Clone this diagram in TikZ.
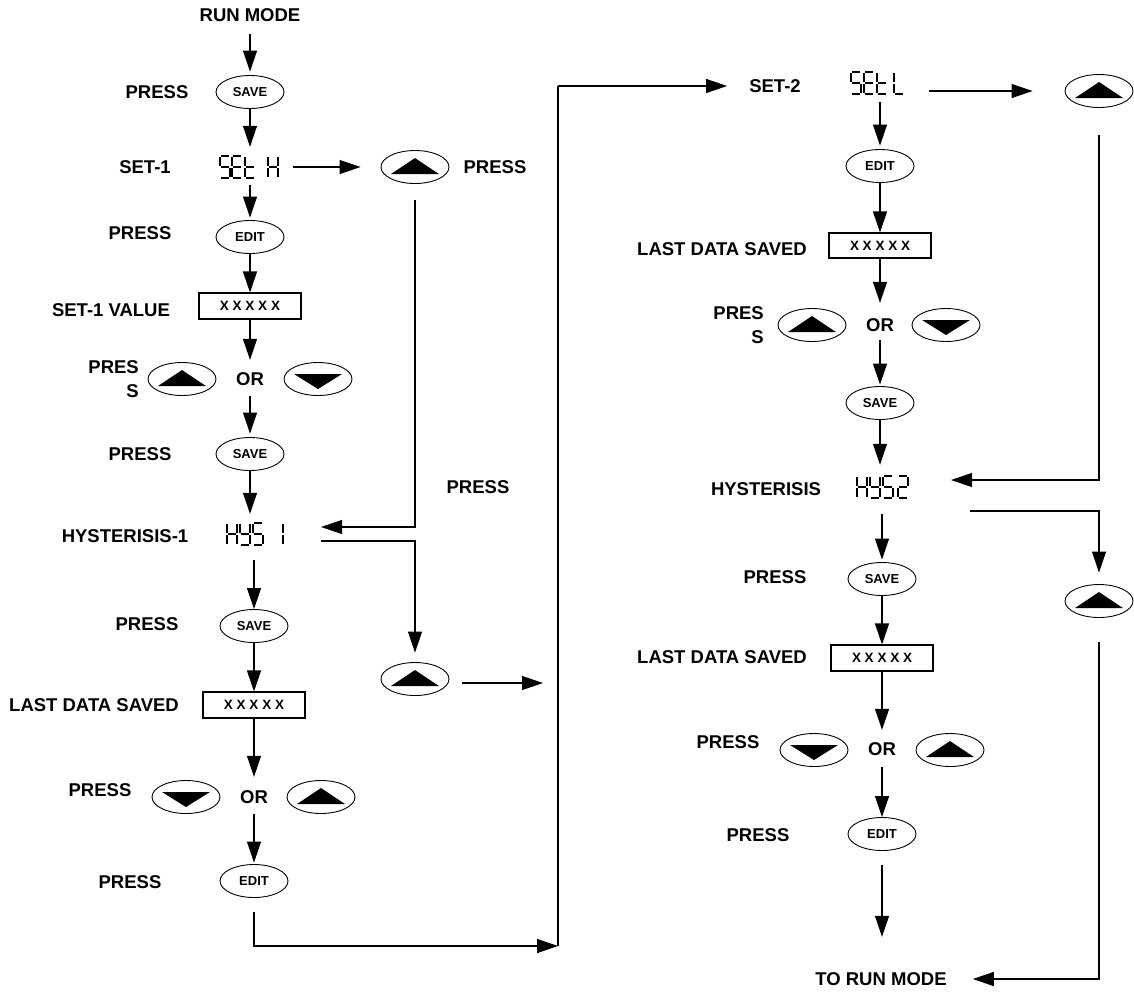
\documentclass[tikz,border=0pt]{standalone}
\usepackage{fontspec}
\setmainfont{Liberation Sans}
\usetikzlibrary{arrows.meta,shapes.geometric,calc}
\tikzset{
 lbl/.style={font=\bfseries\fontsize{18.5}{24}\selectfont, inner sep=0pt},
 btn/.style={ellipse, draw, line width=0.9pt, minimum width=68pt, minimum height=33pt, inner sep=0pt, font=\bfseries\fontsize{13}{13}\selectfont},
 btnup/.style={btn, path picture={\fill ($(path picture bounding box.center)+(-24,7)$) -- ++(48,0) -- ++(-24,-16) -- cycle;}},
 btndn/.style={btn, path picture={\fill ($(path picture bounding box.center)+(-24,-5)$) -- ++(48,0) -- ++(-24,15) -- cycle;}},
 valbox/.style={draw, line width=1.1pt, minimum width=102pt, minimum height=26pt, inner sep=0pt, font=\bfseries\fontsize{13.5}{14}\selectfont},
 disp/.style={inner sep=0pt, minimum height=22pt},
 ln/.style={line width=1.2pt},
 arr/.style={line width=1.2pt, -{Triangle[length=21pt,width=14pt]}},
 seg/.style={line width=1.3pt}
}
\newcommand\lcddigit[3]{%
 \begin{scope}[shift={(#1,#2)}]
 \foreach \s in {#3}{%
  \if\s a\draw[seg] (1.2,0) -- (8.8,0);\fi
  \if\s b\draw[seg] (10,1.2) -- (10,9.8);\fi
  \if\s c\draw[seg] (10,12.2) -- (10,20.8);\fi
  \if\s d\draw[seg] (1.2,22) -- (8.8,22);\fi
  \if\s e\draw[seg] (0,12.2) -- (0,20.8);\fi
  \if\s f\draw[seg] (0,1.2) -- (0,9.8);\fi
  \if\s g\draw[seg] (1.2,11) -- (8.8,11);\fi
 }%
 \end{scope}}
\begin{document}
\begin{tikzpicture}[x=1pt,y=-1pt]
\useasboundingbox (0,0) rectangle (1134,994);
% ---------- left column ----------
\node[lbl] (runmode) at (250,15) {RUN MODE};
\node[btn] (save1) at (250,92) {SAVE};
\node[lbl] (lp1) at (157,92) {PRESS};
\node[disp, minimum width=60pt] (seth) at (250,167) {};
\lcddigit{220}{156}{a,f,g,c,d}
\lcddigit{232}{156}{a,f,g,e,d}
\lcddigit{245}{156}{f,e,g,d}
\lcddigit{268}{156}{f,e,b,c,g}
\node[lbl] (lset1) at (145,167) {SET-1};
\node[btnup] (up1) at (415,167) {};
\node[lbl] (lp2) at (495,167) {PRESS};
\node[btn] (edit1) at (250,237) {EDIT};
\node[lbl] (lp3) at (140,233) {PRESS};
\node[valbox] (box1) at (250,306) {X X X X X};
\node[lbl] (lv1) at (111,310) {SET-1 VALUE};
\node[lbl] (or1) at (250,379) {OR};
\node[btnup] (u1) at (182,379) {};
\node[btndn] (d1) at (318,379) {};
\node[lbl, align=right, anchor=east] (lp4) at (139,379) {PRES\\S};
\node[btn] (save2) at (250,454) {SAVE};
\node[lbl] (lp5) at (140,454) {PRESS};
\node[disp, minimum width=58pt] (hys1) at (255,534) {};
\lcddigit{227}{523}{f,e,b,c,g}
\lcddigit{240}{523}{f,b,g,c,d}
\lcddigit{253}{523}{a,f,g,c,d}
\lcddigit{273}{523}{b,c}
\node[lbl] (lh1) at (125,536) {HYSTERISIS-1};
\node[lbl] (lp6) at (478,487) {PRESS};
\coordinate (hys1in) at (321,527);
\coordinate (hys1out) at (321,541);
\node[btnup] (up2) at (415,679) {};
\coordinate (up2arr) at (543,683);
\node[btn] (save3) at (254,626) {SAVE};
\node[lbl] (lp7) at (147,624) {PRESS};
\node[valbox] (box2) at (254,705) {X X X X X};
\node[lbl] (ll1) at (94,705) {LAST DATA SAVED};
\node[lbl] (or2) at (254,797) {OR};
\node[btndn] (d2) at (186,797) {};
\node[btnup] (u2) at (321,797) {};
\node[lbl] (lp8) at (100,790) {PRESS};
\node[btn] (edit2) at (254,881) {EDIT};
\node[lbl] (lp9) at (130,882) {PRESS};
\coordinate (jb) at (558,946);
\coordinate (jt) at (558,86);
% ---------- right column ----------
\node[lbl] (lset2) at (775,86) {SET-2};
\node[disp, minimum width=56pt] (setl) at (879,83) {};
\lcddigit{851}{72}{a,f,g,c,d}
\lcddigit{864}{72}{a,f,g,e,d}
\lcddigit{877}{72}{f,e,g,d}
\lcddigit{894}{72}{f,e,d}
\node[btnup] (up3) at (1099,91) {};
\node[btn] (edit3) at (880,166) {EDIT};
\node[valbox, minimum height=25pt] (box3) at (880,245.5) {X X X X X};
\node[lbl] (ll2) at (722,249) {LAST DATA SAVED};
\node[lbl] (or3) at (880,325) {OR};
\node[btnup] (u3) at (812,325) {};
\node[btndn] (d3) at (946,325) {};
\node[lbl, align=right, anchor=east] (lp10) at (764,325) {PRES\\S};
\node[btn] (save4) at (880,403) {SAVE};
\node[disp, minimum width=52pt] (hys2) at (882.5,487) {};
\lcddigit{857}{476}{f,e,b,c,g}
\lcddigit{870}{476}{f,b,g,c,d}
\lcddigit{883}{476}{a,f,g,c,d}
\lcddigit{898}{476}{a,b,g,e,d}
\node[lbl] (lh2) at (766,489) {HYSTERISIS};
\coordinate (hys2in) at (951,480);
\coordinate (hys2out) at (970,511);
\node[btnup] (up4) at (1099,601) {};
\node[btn] (save5) at (882,579) {SAVE};
\node[lbl] (lp11) at (775,577) {PRESS};
\node[valbox] (box4) at (882,658) {X X X X X};
\node[lbl] (ll3) at (722,657) {LAST DATA SAVED};
\node[lbl] (or4) at (882,749) {OR};
\node[btndn] (d4) at (814,750) {};
\node[btnup] (u4) at (950,750) {};
\node[lbl] (lp12) at (728,742) {PRESS};
\node[btn] (edit4) at (882,834) {EDIT};
\node[lbl] (lp13) at (758,835) {PRESS};
\node[lbl] (torun) at (881,979) {TO RUN MODE};
% ---------- connectors: left ----------
\draw[arr, shorten <=12.4pt, shorten >=3.5pt] (runmode) -- (save1);
\draw[arr, shorten >=9pt] (save1) -- (seth);
\draw[arr, shorten <=7pt, shorten >=2.5pt] (seth) -- (edit1);
\draw[arr] (edit1) -- (box1);
\draw[arr, shorten >=12.4pt] (box1) -- (or1);
\draw[arr, shorten <=10.4pt, shorten >=3.5pt] (or1) -- (save2);
\draw[arr, shorten >=9pt] (save2) -- (save2 |- hys1.north);
\draw[arr, shorten <=15pt] (hys1.south -| save3) -- (save3);
\draw[arr] (save3) -- (box2);
\draw[arr, shorten >=13.4pt] (box2) -- (or2);
\draw[arr, shorten <=10.4pt, shorten >=1.5pt] (or2) -- (edit2);
\draw[arr, shorten <=14.5pt] (edit2.south) |- (jb);
\draw[ln] (jb) -- (jt);
\draw[arr, shorten >=22pt] (jt) -- (lset2.west |- jt);
% ---------- connectors: middle ----------
\draw[arr, shorten <=13pt, shorten >=20pt] (seth) -- (up1);
\draw[arr, shorten <=16.5pt] (up1.south) |- (hys1in);
\draw[arr, shorten >=9.5pt] (hys1out) -| (up2.north);
\draw[arr, shorten <=13pt] (up2.east |- up2arr) -- (up2arr);
% ---------- connectors: right ----------
\draw[arr, shorten <=22pt, shorten >=32pt] (setl.east |- up3) -- (up3.west);
\draw[arr, shorten <=8pt, shorten >=3.5pt] (setl.south -| edit3) -- (edit3);
\draw[arr] (edit3) -- (box3);
\draw[arr, shorten >=15.4pt] (box3) -- (or3);
\draw[arr, shorten <=8.4pt, shorten >=1.5pt] (or3) -- (save4);
\draw[arr, shorten >=11pt] (save4) -- (save4 |- hys2.north);
\draw[arr, shorten <=16pt, shorten >=2.5pt] (hys2.south -| save5) -- (save5);
\draw[arr] (save5) -- (box4);
\draw[arr, shorten >=12.4pt] (box4) -- (or4);
\draw[arr, shorten <=11.4pt] (or4) -- (edit4);
\draw[arr, shorten <=14.5pt, shorten >=35.4pt] (edit4) -- (edit4 |- torun.north);
\draw[arr, shorten <=27.5pt] (up3.south) |- (hys2in);
\draw[arr, shorten >=11.5pt] (hys2out) -| (up4.north);
\draw[arr, shorten <=24.5pt, shorten >=26pt] (up4.south) |- (torun.east);
\end{tikzpicture}
\end{document}
